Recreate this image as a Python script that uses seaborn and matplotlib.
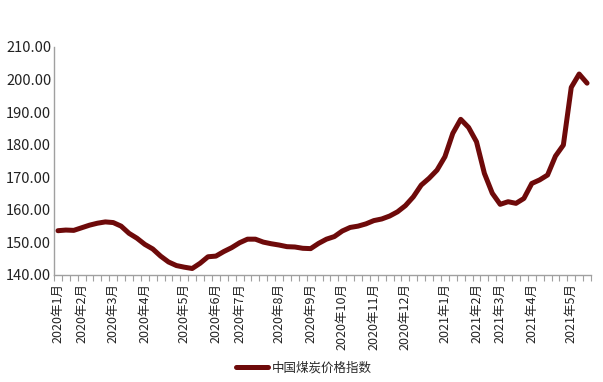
import matplotlib
matplotlib.use("Agg")
import matplotlib.pyplot as plt
import matplotlib.ticker as mticker
import pandas as pd
import seaborn as sns

# weekly categories, only the first week of each month carries a label
week_labels = (
    ["2020年1月", "", ""]
    + ["2020年2月", "", "", ""]
    + ["2020年3月", "", "", ""]
    + ["2020年4月", "", "", "", ""]
    + ["2020年5月", "", "", ""]
    + ["2020年6月", "", ""]
    + ["2020年7月", "", "", "", ""]
    + ["2020年8月", "", "", ""]
    + ["2020年9月", "", "", ""]
    + ["2020年10月", "", "", ""]
    + ["2020年11月", "", "", ""]
    + ["2020年12月", "", "", "", ""]
    + ["2021年1月", "", "", ""]
    + ["2021年2月", "", ""]
    + ["2021年3月", "", "", ""]
    + ["2021年4月", "", "", "", ""]
    + ["2021年5月", "", ""]
)

coal_index = [
    153.6, 153.8, 153.7, 154.5, 155.3, 155.9, 156.3, 156.1, 155.0, 152.8,
    151.3, 149.4, 148.0, 145.8, 144.0, 142.9, 142.4, 142.0, 143.6, 145.6,
    145.8, 147.2, 148.4, 149.9, 151.0, 151.0, 150.1, 149.6, 149.2, 148.7,
    148.6, 148.2, 148.1, 149.7, 151.0, 151.8, 153.5, 154.6, 155.0, 155.7,
    156.7, 157.2, 158.1, 159.4, 161.3, 164.0, 167.6, 169.7, 172.2, 176.3,
    183.5, 187.8, 185.3, 180.9, 171.2, 165.1, 161.7, 162.5, 162.0, 163.5,
    168.1, 169.2, 170.7, 176.5, 179.9, 197.6, 201.7, 198.9,
]

series_name = "中国煤炭价格指数"

sns.set_style("white")
plt.rcParams["font.family"] = ["Noto Sans CJK SC", "DejaVu Sans"]

df = pd.DataFrame({"week": range(len(coal_index)), "value": coal_index})

fig = plt.figure(figsize=(6.03, 3.82), dpi=100)
ax = fig.add_axes([54 / 603, 1 - 275 / 382, (591 - 54) / 603, (275 - 47) / 382])

sns.lineplot(data=df, x="week", y="value", ax=ax, color="#6E0A0A",
             linewidth=3.6, label=series_name, legend=False)

ax.set_xlim(-0.5, len(coal_index) - 0.5)
ax.set_ylim(140, 210)
ax.yaxis.set_major_locator(mticker.MultipleLocator(10))
ax.yaxis.set_major_formatter(mticker.FuncFormatter(lambda v, _: f"{v:.2f}"))

ax.set_xticks(range(len(week_labels)))
ax.set_xticklabels(week_labels, rotation=90, fontsize=9, color="#222222")
ax.set_xticks([i - 0.5 for i in range(len(week_labels) + 1)], minor=True)
ax.tick_params(axis="x", which="major", length=0, pad=6)
ax.tick_params(axis="x", which="minor", length=4, color="#A0A0A0", width=0.8,
               direction="out", bottom=True)
ax.tick_params(axis="y", length=0, pad=2, labelsize=10.5, labelcolor="#222222")
ax.set_xlabel("")
ax.set_ylabel("")

for side in ("top", "right"):
    ax.spines[side].set_visible(False)
for side in ("left", "bottom"):
    ax.spines[side].set_color("#A0A0A0")
    ax.spines[side].set_linewidth(1.0)

handles, labels = ax.get_legend_handles_labels()
fig.legend(handles, labels, loc="center", bbox_to_anchor=(0.504, 0.037),
           frameon=False, fontsize=9, handlelength=2.6, handletextpad=0.3)

fig.savefig("out.png", dpi=100)
